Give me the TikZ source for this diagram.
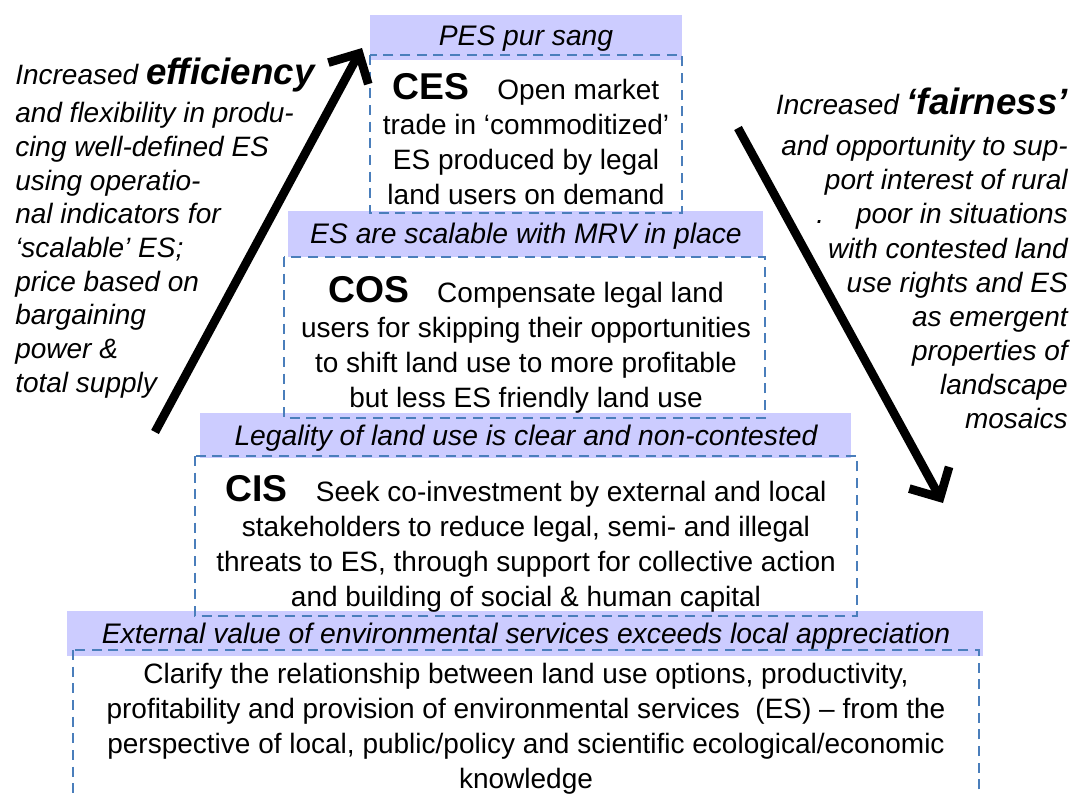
\documentclass[tikz,border=0pt]{standalone}
\usepackage{fontspec}
\setmainfont{Liberation Sans}
\usetikzlibrary{arrows.meta}
\definecolor{hdrfill}{RGB}{204,204,255}
\definecolor{dashblue}{RGB}{74,126,187}
\tikzset{
  hdr/.style={fill=hdrfill},
  dbox/.style={draw=dashblue,line width=2pt,dash pattern=on 7.5pt off 5pt},
  body/.style={align=center,inner sep=0pt,font=\fontsize{21}{26.25}\selectfont},
  cond/.style={inner sep=0pt,font=\itshape\fontsize{21.2}{24}\selectfont},
  side/.style={inner sep=0pt,font=\itshape\fontsize{21}{25.3}\selectfont},
  bigarrow/.style={line width=6.5pt,-{Straight Barb[length=17pt,width=34pt]}}
}
\newcommand{\lvl}[1]{{\fontsize{28}{30}\selectfont\bfseries #1}}

\begin{document}
\begin{tikzpicture}[x=0.75pt,y=-0.75pt]
\useasboundingbox (0,0) rectangle (1074,794);
% header bands
\fill[hdr] (370,15) rectangle (682,60);
\fill[hdr] (288,211) rectangle (763,257);
\fill[hdr] (200,413) rectangle (851,458);
\fill[hdr] (67,611) rectangle (983,656);
% dashed boxes
\draw[dbox] (370,55) rectangle (682,213);
\draw[dbox] (284,257) rectangle (765,418);
\draw[dbox] (195,456) rectangle (857,616);
\draw[dbox] (73,650) rectangle (979,800);
% conditions and levels
\node[cond] (pes) at (526,39) {PES pur sang};
\node[body] (ces) at (526,139) {\lvl{CES}\quad Open market\\trade in ‘commoditized’\\ES produced by legal\\land users on demand};
\node[cond] (mrv) at (526,236) {ES are scalable with MRV in place};
\node[body] (cos) at (526,345) {\lvl{COS}\quad Compensate legal land\\users for skipping their opportunities\\to shift land use to more profitable\\but less ES friendly land use};
\node[cond] (legal) at (526,438) {Legality of land use is clear and non-contested};
\node[body] (cis) at (526,544) {\lvl{CIS}\quad Seek co-investment by external and local\\stakeholders to reduce legal, semi- and illegal\\threats to ES, through support for collective action\\and building of social \& human capital};
\node[cond] (ext) at (526,636) {External value of environmental services exceeds local appreciation};
\node[body] (clar) at (526,729) {Clarify the relationship between land use options, productivity,\\profitability and provision of environmental services~ (ES) -- from the\\perspective of local, public/policy and scientific ecological/economic\\knowledge};
% side texts
\node[side,align=left,anchor=north west] (eff) at (15,58) {Increased {\bfseries\fontsize{27.5}{30}\selectfont efficiency}\\[3pt]and flexibility in produ-\\cing well-defined ES\\using operatio-\\nal indicators for\\‘scalable’ ES;\\price based on\\bargaining\\power \&\\total supply};
\node[side,align=right,anchor=north east,font=\itshape\fontsize{21}{25.6}\selectfont] (fair) at (1068,88) {Increased {\bfseries\fontsize{27.5}{30}\selectfont ‘fairness’}\\[5pt]and opportunity to sup-\\port interest of rural\\.\hspace{24pt}poor in situations\\with contested land\\use rights and ES\\as emergent\\properties of\\landscape\\mosaics};
% arrows
\coordinate (effbot) at (155,432);
\coordinate (efftop) at (362,48);
\coordinate (fairtop) at (738,128);
\coordinate (fairbot) at (943,503);
\draw[bigarrow] (effbot) -- (efftop);
\draw[bigarrow] (fairtop) -- (fairbot);
\end{tikzpicture}
\end{document}
